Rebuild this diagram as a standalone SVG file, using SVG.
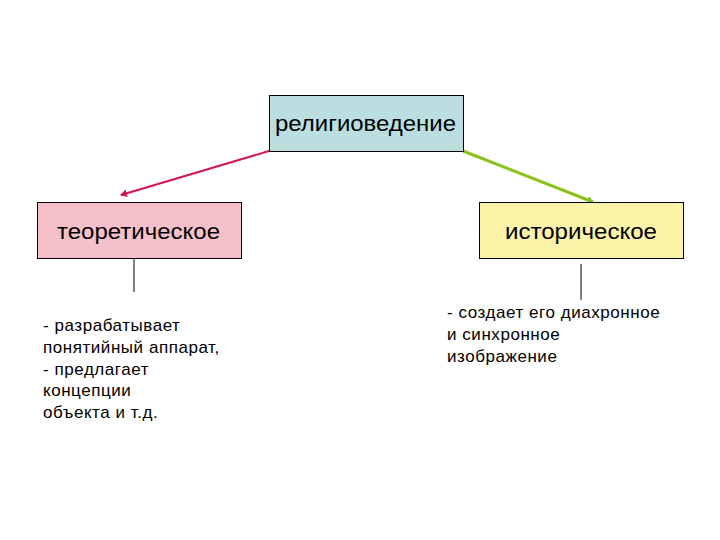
<svg xmlns="http://www.w3.org/2000/svg" width="720" height="540" viewBox="0 0 720 540">
<style>
.box{stroke:#000;stroke-width:1}
.t{font-family:"Liberation Sans",Arial,sans-serif;fill:#000}
.h{font-size:22px}
.b{font-size:17px;letter-spacing:0.55px}
</style>
<defs>
<marker id="ar" markerWidth="8" markerHeight="8" refX="6" refY="4" orient="auto" markerUnits="userSpaceOnUse"><path d="M0,0 L7,4 L0,8 z" fill="#d6145c"/></marker>
<marker id="ag" markerWidth="8" markerHeight="8" refX="6" refY="4" orient="auto" markerUnits="userSpaceOnUse"><path d="M0,0 L7,4 L0,8 z" fill="#8cc21e"/></marker>
</defs>
<rect width="720" height="540" fill="#fff"/>
<g id="connectors">
<line x1="269" y1="151" x2="121" y2="195" stroke="#d6145c" stroke-width="2" marker-end="url(#ar)"/>
<line x1="463" y1="151" x2="593" y2="202" stroke="#8cc21e" stroke-width="3" marker-end="url(#ag)"/>
<line x1="134" y1="258" x2="134" y2="292" stroke="#000" stroke-width="1"/>
<line x1="581" y1="264" x2="581" y2="300" stroke="#000" stroke-width="1"/>
</g>
<g id="root">
<rect class="box" x="269.5" y="95.5" width="194" height="56" fill="#bbdfe0"/>
<text class="t h" x="275" y="131" textLength="181" lengthAdjust="spacingAndGlyphs">религиоведение</text>
</g>
<g id="theoretical">
<rect class="box" x="37.5" y="202.5" width="204" height="56" fill="#f6c0cb"/>
<text class="t h" x="57" y="239" textLength="163" lengthAdjust="spacingAndGlyphs">теоретическое</text>
</g>
<g id="historical">
<rect class="box" x="479.5" y="202.5" width="204" height="56" fill="#fbf3a8"/>
<text class="t h" x="505" y="239" textLength="152" lengthAdjust="spacingAndGlyphs">историческое</text>
</g>
<g id="theoretical-desc">
<text class="t b" x="43" y="331">- разрабатывает</text>
<text class="t b" x="43" y="353">понятийный аппарат,</text>
<text class="t b" x="43" y="375">- предлагает</text>
<text class="t b" x="43" y="396">концепции</text>
<text class="t b" x="43" y="418">объекта и т.д.</text>
</g>
<g id="historical-desc">
<text class="t b" x="447" y="318">- создает его диахронное</text>
<text class="t b" x="447" y="340">и синхронное</text>
<text class="t b" x="447" y="362">изображение</text>
</g>
</svg>
